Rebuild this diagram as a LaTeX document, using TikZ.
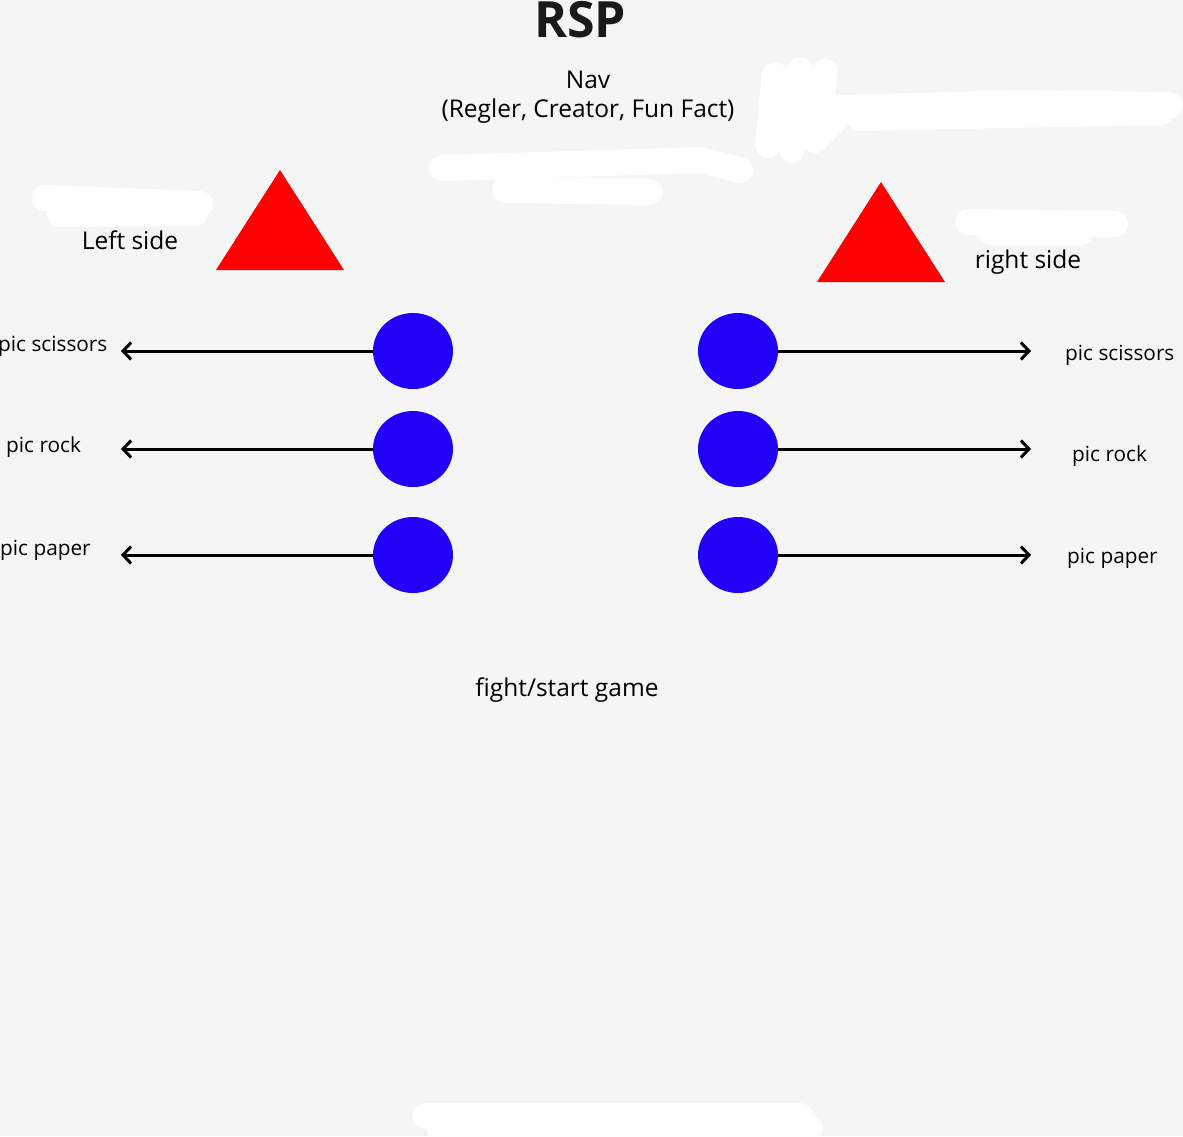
\documentclass[tikz,border=0pt]{standalone}
\usepackage{fontspec}
\setmainfont{Open Sans}
\usetikzlibrary{arrows.meta,shapes.geometric}
\definecolor{bg}{HTML}{F5F5F5}
\definecolor{dotblue}{HTML}{2200F5}
\definecolor{trired}{HTML}{FF0000}
\begin{document}
\begin{tikzpicture}[x=1pt,y=-1pt,
  dot/.style={ellipse,fill=dotblue,minimum width=80pt,minimum height=76pt,inner sep=0pt},
  lbl/.style={font=\fontsize{20.8}{24}\selectfont,inner sep=0pt},
  big/.style={font=\fontsize{24.5}{28}\selectfont,inner sep=0pt},
  conn/.style={line width=3pt,-{Straight Barb[length=8pt,width=17pt,line width=3pt]}},
  scrib/.style={white,line width=26pt,line cap=round,line join=round}]
\fill[bg] (0,0) rectangle (1183,1136);
\useasboundingbox (0,0) rectangle (1183,1136);
% redaction strokes
\draw[scrib] (775,75) -- (768,145);
\draw[scrib] (800,70) -- (792,150);
\draw[scrib] (825,72) -- (815,140) -- (840,115);
\draw[scrib] (790,110) -- (840,108) -- (1020,103) -- (1170,105);
\draw[scrib] (860,118) -- (1160,112);
\draw[scrib] (442,168) -- (700,160) -- (740,170);
\draw[scrib] (505,190) -- (650,192);
\draw[scrib] (45,198) -- (200,204);
\draw[scrib] (60,214) -- (195,213);
\draw[scrib] (968,222) -- (1115,224);
\draw[scrib] (990,232) -- (1080,232);
\draw[scrib] (425,1116) -- (800,1116);
\draw[scrib] (440,1130) -- (810,1128);
% title
\node (title) [font=\fontsize{50}{56}\selectfont\bfseries,text=black!90,anchor=base] at (580,37) {RSP};
\node (nav) [big,anchor=base] at (588,88) {Nav};
\node (navitems) [big,anchor=base] at (588,117) {(Regler, Creator, Fun Fact)};
% triangles
\fill[trired] (280,170) -- (344,270) -- (216,270) -- cycle;
\fill[trired] (881,182) -- (945,282) -- (817,282) -- cycle;
\node (lside) [big,anchor=base] at (130,249) {Left side};
\node (rside) [big,anchor=base] at (1028,268) {right side};
% dots
\node (l1) [dot] at (413,351) {};
\node (l2) [dot] at (413,449) {};
\node (l3) [dot] at (413,555) {};
\node (r1) [dot] at (738,351) {};
\node (r2) [dot] at (738,449) {};
\node (r3) [dot] at (738,555) {};
% end points
\coordinate (la1) at (121,351);
\coordinate (la2) at (121,449);
\coordinate (la3) at (121,555);
\coordinate (ra1) at (1031,351);
\coordinate (ra2) at (1031,449);
\coordinate (ra3) at (1031,555);
\draw[conn] (l1.west) -- (la1);
\draw[conn] (l2.west) -- (la2);
\draw[conn] (l3.west) -- (la3);
\draw[conn] (r1.east) -- (ra1);
\draw[conn] (r2.east) -- (ra2);
\draw[conn] (r3.east) -- (ra3);
% labels
\node (t1) [lbl,anchor=base west] at (-2,351) {pic scissors};
\node (t2) [lbl,anchor=base west] at (6,452) {pic rock};
\node (t3) [lbl,anchor=base west] at (0,555) {pic paper};
\node (u1) [lbl,anchor=base west] at (1065,360) {pic scissors};
\node (u2) [lbl,anchor=base west] at (1072,461) {pic rock};
\node (u3) [lbl,anchor=base west] at (1067,563) {pic paper};
\node (fight) [big,anchor=base] at (567,696) {fight/start game};
\end{tikzpicture}
\end{document}
